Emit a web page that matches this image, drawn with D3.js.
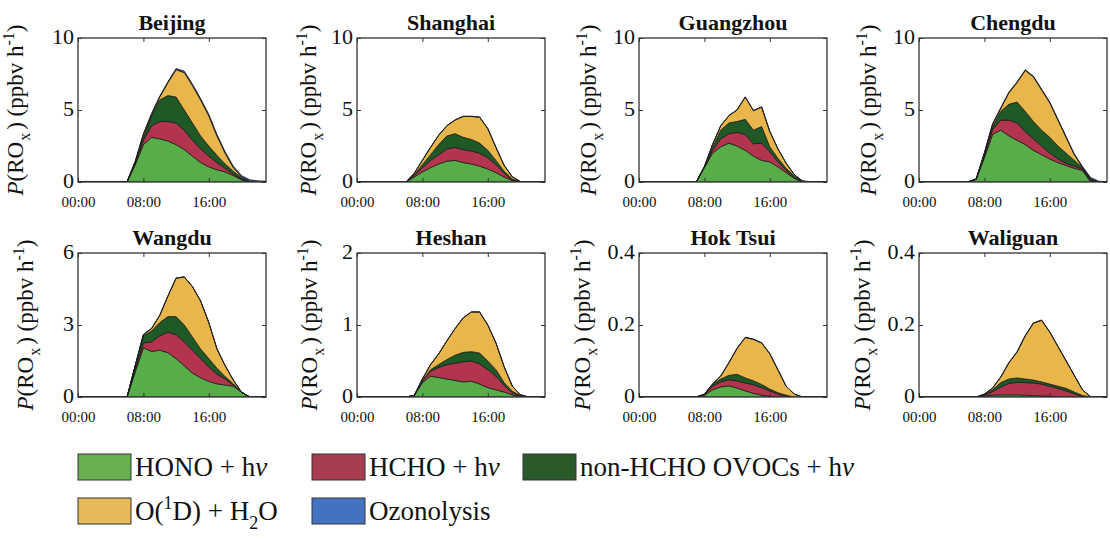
<!DOCTYPE html>
<html>
<head>
<meta charset="utf-8">
<script src="https://cdn.jsdelivr.net/npm/d3@7"></script>
<style>
  html, body { margin: 0; padding: 0; background: #fff; }
  svg { display: block; font-family: "Liberation Serif", "Times New Roman", serif; }
</style>
</head>
<body>
<svg id="chart" width="1110" height="539"></svg>
<script>
// Diurnal ROx production rates (ppbv h-1) by pathway at eight sites.
const hours = [0,1,2,3,4,5,6,7,8,9,10,11,12,13,14,15,16,17,18,19,20,21,22,23];
const xTickValues = [0, 8, 16];
const xTickLabels = ["00:00", "08:00", "16:00"];

const sites = ["Beijing", "Shanghai", "Guangzhou", "Chengdu", "Wangdu", "Heshan", "Hok Tsui", "Waliguan"];
const yMaxes = [10, 10, 10, 10, 6, 2, 0.4, 0.4];
const yTicks = [[0,5,10],[0,5,10],[0,5,10],[0,5,10],[0,3,6],[0,1,2],[0,0.2,0.4],[0,0.2,0.4]];

const pathwayNames = ["HONO + hν", "HCHO + hν", "non-HCHO OVOCs + hν", "O(1D) + H2O", "Ozonolysis"];

// Beijing
const BJ_HONO = [0,0,0,0,0,0,0,1.2,2.6,3.1,3.0,2.85,2.6,2.25,1.8,1.35,1.05,0.85,0.7,0.45,0.15,0,0,0];
const BJ_HCHO = [0,0,0,0,0,0,0,0.1,0.3,0.8,1.2,1.35,1.5,1.35,1.1,0.95,0.75,0.5,0.25,0.1,0.05,0.02,0,0];
const BJ_OVOC = [0,0,0,0,0,0,0,0.05,0.2,0.7,1.5,1.8,1.8,1.4,1.2,0.9,0.7,0.5,0.3,0.2,0.1,0.02,0,0];
const BJ_O1D  = [0,0,0,0,0,0,0,0.05,0.2,0.1,0.2,0.9,1.9,2.6,2.6,2.5,2.1,1.35,0.75,0.25,0.05,0.02,0,0];
const BJ_OZO  = [0.04,0.04,0.04,0.04,0.04,0.04,0.04,0.05,0.05,0.05,0.06,0.06,0.08,0.1,0.1,0.1,0.1,0.1,0.1,0.1,0.1,0.1,0.08,0.06];
// Shanghai
const SH_HONO = [0,0,0,0,0,0,0,0.35,0.7,1.0,1.25,1.45,1.5,1.35,1.25,1.1,0.9,0.65,0.35,0.1,0,0,0,0];
const SH_HCHO = [0,0,0,0,0,0,0,0.1,0.3,0.5,0.65,0.85,0.9,0.9,0.9,0.9,0.8,0.55,0.25,0.05,0,0,0,0];
const SH_OVOC = [0,0,0,0,0,0,0,0.05,0.2,0.4,0.7,0.9,0.95,0.85,0.8,0.7,0.5,0.3,0.15,0.05,0,0,0,0];
const SH_O1D  = [0,0,0,0,0,0,0,0.1,0.3,0.5,0.65,0.7,0.95,1.45,1.6,1.8,1.5,0.9,0.4,0.15,0.02,0,0,0];
const SH_OZO  = [0.01,0.01,0.01,0.01,0.01,0.01,0.01,0.01,0.01,0.02,0.02,0.02,0.02,0.02,0.02,0.02,0.02,0.02,0.02,0.02,0.01,0.01,0.01,0.01];
// Guangzhou
const GZ_HONO = [0,0,0,0,0,0,0,0,1.0,2.0,2.45,2.7,2.5,2.2,1.8,1.5,1.4,1.05,0.65,0.25,0,0,0,0];
const GZ_HCHO = [0,0,0,0,0,0,0,0,0.05,0.2,0.55,0.65,0.95,1.1,0.85,1.2,0.7,0.35,0.15,0.05,0.01,0,0,0];
const GZ_OVOC = [0,0,0,0,0,0,0,0,0.01,0.2,0.6,0.75,0.75,1.05,0.95,1.15,0.35,0.25,0.15,0.1,0.02,0,0,0];
const GZ_O1D  = [0,0,0,0,0,0,0,0,0,0.2,0.3,0.5,0.8,1.55,1.35,1.35,1.05,0.65,0.35,0.1,0.03,0,0,0];
const GZ_OZO  = [0.01,0.01,0.01,0.01,0.01,0.01,0.01,0.01,0.01,0.01,0.02,0.02,0.02,0.02,0.02,0.02,0.02,0.02,0.02,0.02,0.02,0.02,0.01,0.01];
// Chengdu
const CD_HONO = [0,0,0,0,0,0,0,0.18,1.7,3.3,3.6,3.2,2.9,2.6,2.2,1.9,1.6,1.35,1.15,0.95,0.8,0,0,0];
const CD_HCHO = [0,0,0,0,0,0,0,0.01,0.15,0.35,0.7,1.1,1.2,0.9,0.8,0.6,0.4,0.25,0.15,0.15,0.1,0.1,0,0];
const CD_OVOC = [0,0,0,0,0,0,0,0.01,0.1,0.2,0.6,1.1,1.45,1.4,1.2,1.1,1.1,0.9,0.7,0.4,0.1,0.1,0,0];
const CD_O1D  = [0,0,0,0,0,0,0,0,0.05,0.15,0.2,0.8,1.35,2.85,3.1,2.8,2.4,1.8,1.1,0.4,0.02,0.03,0,0];
const CD_OZO  = [0.03,0.03,0.03,0.03,0.03,0.03,0.03,0.03,0.04,0.04,0.05,0.05,0.05,0.05,0.05,0.05,0.05,0.05,0.05,0.05,0.06,0.08,0.05,0.03];
// Wangdu
const WD_HONO = [0,0,0,0,0,0,0,1.05,2.05,1.9,1.95,1.85,1.6,1.3,1.0,0.8,0.65,0.55,0.5,0.45,0.2,0,0,0];
const WD_HCHO = [0,0,0,0,0,0,0,0.1,0.2,0.4,0.6,0.85,1.0,1.0,0.95,0.8,0.6,0.4,0.25,0.05,0,0,0,0];
const WD_OVOC = [0,0,0,0,0,0,0,0.15,0.3,0.45,0.55,0.65,0.75,0.7,0.55,0.4,0.35,0.25,0.1,0.05,0,0,0,0];
const WD_O1D  = [0,0,0,0,0,0,0,0,0.05,0.1,0.3,0.85,1.6,2.0,2.1,2.0,1.5,0.8,0.45,0.15,0,0,0,0];
const WD_OZO  = [0,0,0,0,0,0,0,0.01,0.01,0.01,0.01,0.01,0.01,0.01,0.01,0.01,0.01,0.01,0.01,0.01,0.01,0,0,0];
// Heshan
const HS_HONO = [0,0,0,0,0,0,0,0.02,0.2,0.29,0.27,0.25,0.23,0.21,0.22,0.18,0.13,0.1,0.07,0.03,0,0,0,0];
const HS_HCHO = [0,0,0,0,0,0,0,0,0.02,0.07,0.14,0.2,0.24,0.28,0.28,0.28,0.25,0.19,0.09,0.03,0.01,0,0,0];
const HS_OVOC = [0,0,0,0,0,0,0,0,0.01,0.02,0.04,0.07,0.11,0.13,0.13,0.15,0.12,0.09,0.04,0.02,0.01,0,0,0];
const HS_O1D  = [0,0,0,0,0,0,0,0,0.02,0.07,0.15,0.26,0.37,0.48,0.55,0.57,0.5,0.37,0.22,0.07,0.01,0,0,0];
const HS_OZO  = [0,0,0,0,0,0,0,0,0.002,0.002,0.002,0.003,0.003,0.003,0.003,0.003,0.003,0.003,0.003,0.002,0.002,0,0,0];
// Hok Tsui
const HT_HONO = [0,0,0,0,0,0,0,0,0.005,0.02,0.028,0.031,0.025,0.017,0.01,0.005,0.002,0,0,0,0,0,0,0];
const HT_HCHO = [0,0,0,0,0,0,0,0,0.001,0.01,0.014,0.017,0.02,0.022,0.024,0.021,0.015,0.008,0.002,0,0,0,0,0];
const HT_OVOC = [0,0,0,0,0,0,0,0,0.001,0.005,0.008,0.012,0.018,0.014,0.011,0.009,0.005,0.004,0.003,0,0,0,0,0];
const HT_O1D  = [0,0,0,0,0,0,0,0,0.001,0.001,0.008,0.035,0.072,0.112,0.115,0.115,0.098,0.063,0.025,0.008,0,0,0,0];
const HT_OZO  = [0,0,0,0,0,0,0,0,0,0,0.001,0.001,0.001,0.001,0.001,0.001,0.001,0.001,0,0,0,0,0,0];
// Waliguan
const WG_HONO = [0,0,0,0,0,0,0,0,0.002,0.005,0.006,0.006,0.006,0.005,0.004,0.003,0.002,0.001,0,0,0,0,0,0];
const WG_HCHO = [0,0,0,0,0,0,0,0,0.002,0.01,0.022,0.032,0.035,0.035,0.035,0.033,0.028,0.023,0.017,0.009,0.002,0,0,0];
const WG_OVOC = [0,0,0,0,0,0,0,0,0.002,0.005,0.012,0.012,0.012,0.01,0.008,0.006,0.006,0.006,0.007,0.005,0.002,0,0,0];
const WG_O1D  = [0,0,0,0,0,0,0,0,0.002,0.005,0.015,0.045,0.072,0.12,0.158,0.171,0.144,0.11,0.076,0.046,0.016,0,0,0];
const WG_OZO  = [0,0,0,0,0,0,0,0,0,0,0.001,0.001,0.001,0.001,0.001,0.001,0.001,0.001,0.001,0,0,0,0,0];

const siteSeries = [
  [BJ_HONO, BJ_HCHO, BJ_OVOC, BJ_O1D, BJ_OZO],
  [SH_HONO, SH_HCHO, SH_OVOC, SH_O1D, SH_OZO],
  [GZ_HONO, GZ_HCHO, GZ_OVOC, GZ_O1D, GZ_OZO],
  [CD_HONO, CD_HCHO, CD_OVOC, CD_O1D, CD_OZO],
  [WD_HONO, WD_HCHO, WD_OVOC, WD_O1D, WD_OZO],
  [HS_HONO, HS_HCHO, HS_OVOC, HS_O1D, HS_OZO],
  [HT_HONO, HT_HCHO, HT_OVOC, HT_O1D, HT_OZO],
  [WG_HONO, WG_HCHO, WG_OVOC, WG_O1D, WG_OZO]
];

// ---- layout & style ----
const keys = ["hono", "hcho", "ovoc", "o1d", "ozo"];
const fills = ["#57ae49", "#b3354d", "#1f5a26", "#e8b64b", "#3e6fbe"];
const legendFills = ["#68b04f", "#a83c50", "#2a5a2a", "#e6b95a", "#4472c0"];
const colLeft = [78, 357, 639, 919];
const rowTop = [38, 253];
const W = 188, H = 144;
const yLabelOffset = [55, 41, 43, 43, 45, 40, 49, 49];
const axisColor = "#333";
const FONT = '"Liberation Serif", "Times New Roman", serif';

const svg = d3.select("#chart");
const defs = svg.append("defs");

function fmtTick(v) { return String(v); }

sites.forEach((name, i) => {
  const col = i % 4, row = Math.floor(i / 4);
  const left = colLeft[col], top = rowTop[row];
  const x = d3.scaleLinear().domain([0, 23]).range([left, left + W]);
  const y = d3.scaleLinear().domain([0, yMaxes[i]]).range([top + H, top]);

  const rows = hours.map((h, j) => {
    const r = { hour: h };
    keys.forEach((k, s) => { r[k] = siteSeries[i][s][j]; });
    return r;
  });
  const layers = d3.stack().keys(keys)(rows);

  const clipId = "clip" + i;
  defs.append("clipPath").attr("id", clipId)
    .append("rect").attr("x", left).attr("y", top).attr("width", W).attr("height", H);

  const g = svg.append("g");
  const area = d3.area()
    .x(d => x(d.data.hour))
    .y0(d => y(d[0]))
    .y1(d => y(d[1]));

  g.append("g").attr("clip-path", `url(#${clipId})`)
    .selectAll("path").data(layers).join("path")
    .attr("d", area)
    .attr("fill", (d, k) => fills[k])
    .attr("stroke", "#1c1c1c")
    .attr("stroke-width", 0.8)
    .attr("stroke-linejoin", "round");

  // axes with inward ticks on all four sides
  const styleAxis = sel => {
    sel.select(".domain").remove();
    sel.selectAll(".tick line").attr("stroke", axisColor).attr("stroke-width", 1);
    sel.attr("font-family", FONT).attr("fill", null);
    sel.selectAll("text").attr("fill", "#111");
  };

  g.append("g").attr("transform", `translate(${left},0)`)
    .call(d3.axisLeft(y).tickValues(yTicks[i]).tickSize(-4).tickPadding(4).tickFormat(fmtTick))
    .call(styleAxis)
    .attr("font-size", 22)
    .call(sel => sel.selectAll("text").attr("dy", "0.25em"));

  g.append("g").attr("transform", `translate(${left + W},0)`)
    .call(d3.axisRight(y).tickValues(yTicks[i]).tickSize(-4).tickFormat(""))
    .call(styleAxis);

  g.append("g").attr("transform", `translate(0,${top + H})`)
    .call(d3.axisBottom(x).tickValues(xTickValues).tickSize(-4).tickPadding(14)
      .tickFormat((d, k) => xTickLabels[k]))
    .call(styleAxis)
    .attr("font-size", 15);

  g.append("g").attr("transform", `translate(0,${top})`)
    .call(d3.axisTop(x).tickValues(xTickValues).tickSize(-4).tickFormat(""))
    .call(styleAxis);

  g.append("rect")
    .attr("x", left).attr("y", top).attr("width", W).attr("height", H)
    .attr("fill", "none").attr("stroke", axisColor).attr("stroke-width", 1.3);

  // title
  g.append("text")
    .attr("x", left + W / 2).attr("y", top - 8.5)
    .attr("text-anchor", "middle")
    .attr("font-weight", "bold").attr("font-size", 22)
    .attr("fill", "#111")
    .text(name);

  // y-axis label: P(ROx) (ppbv h-1)
  const lab = g.append("text")
    .attr("transform", `translate(${left - yLabelOffset[i]},${top + H / 2}) rotate(-90)`)
    .attr("text-anchor", "middle")
    .attr("font-size", 23)
    .attr("fill", "#111");
  lab.append("tspan").attr("font-style", "italic").text("P");
  lab.append("tspan").text("(RO");
  lab.append("tspan").attr("font-size", 16).attr("dy", 7).attr("dx", 1).text("x");
  lab.append("tspan").attr("dy", -7).attr("dx", 3).text(") (ppbv h");
  lab.append("tspan").attr("font-size", 16).attr("dy", -9).text("-1");
  lab.append("tspan").attr("dy", 9).text(")");
});

// ---- legend ----
const legendPos = [[78, 454], [312, 454], [523, 454], [78, 498], [312, 498]];
// label segments: [text, shift (-1 sup, 1 sub, 0 normal), italic]
const legendParts = [
  [["HONO + h", 0], ["ν", 0, true]],
  [["HCHO + h", 0], ["ν", 0, true]],
  [["non-HCHO OVOCs + h", 0], ["ν", 0, true]],
  [["O(", 0], ["1", -1], ["D) + H", 0], ["2", 1], ["O", 0]],
  [["Ozonolysis", 0]]
];
const lg = svg.append("g");
pathwayNames.forEach((nm, k) => {
  const [lx, ly] = legendPos[k];
  lg.append("rect")
    .attr("x", lx).attr("y", ly).attr("width", 53).attr("height", 26)
    .attr("fill", legendFills[k]).attr("stroke", "#333").attr("stroke-width", 1);
  const t = lg.append("text")
    .attr("x", lx + 57).attr("y", ly + 22)
    .attr("font-size", 27).attr("fill", "#111");
  let cur = 0;
  legendParts[k].forEach(([s, shift, ital]) => {
    const target = shift === -1 ? -11 : shift === 1 ? 9 : 0;
    const ts = t.append("tspan").attr("dy", target - cur).text(s);
    if (shift !== 0) ts.attr("font-size", 18);
    if (ital) ts.attr("font-style", "italic");
    cur = target;
  });
});
</script>
</body>
</html>
